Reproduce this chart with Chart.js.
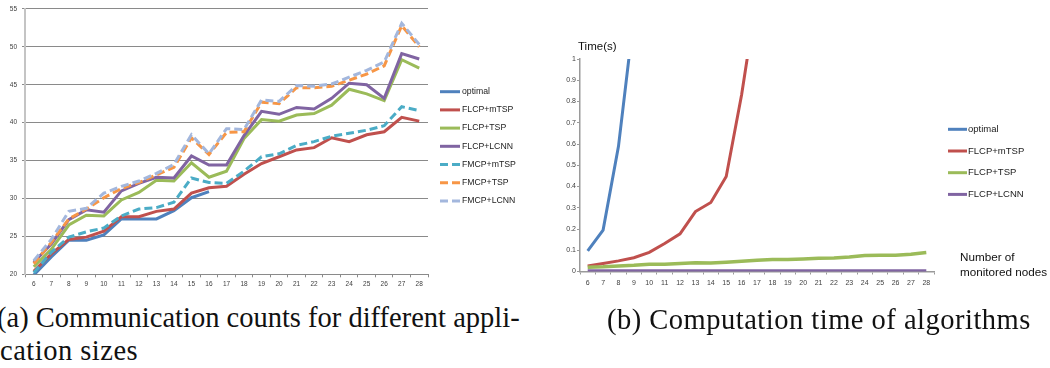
<!DOCTYPE html>
<html><head><meta charset="utf-8">
<script src="https://cdn.jsdelivr.net/npm/chart.js@4/dist/chart.umd.min.js"></script>
<style>
html,body{margin:0;padding:0;background:#fff;width:1050px;height:368px;overflow:hidden;position:relative}
#ca{position:absolute;left:0;top:0}
#cb{position:absolute;left:550px;top:0}
.cap{position:absolute;font-family:"Liberation Serif","DejaVu Serif",serif;font-size:28.5px;color:#111;white-space:nowrap;line-height:1}
</style></head><body>
<canvas id="ca" width="560" height="300"></canvas>
<canvas id="cb" width="500" height="300"></canvas>
<div class="cap" style="left:-3px;top:304px">(a) Communication counts for different appli-</div>
<div class="cap" style="left:0px;top:337px;letter-spacing:0.5px">cation sizes</div>
<div class="cap" style="left:607px;top:306px;letter-spacing:0.5px">(b) Computation time of algorithms</div>
<script>
// ---- data ----
const categories = ['6','7','8','9','10','11','12','13','14','15','16','17','18','19','20','21','22','23','24','25','26','27','28'];
const seriesNames = ['optimal','FLCP+mTSP','FLCP+TSP','FLCP+LCNN','FMCP+mTSP','FMCP+TSP','FMCP+LCNN'];
const yTicksA = [20,25,30,35,40,45,50,55];
const yTicksB = [0,0.1,0.2,0.3,0.4,0.5,0.6,0.7,0.8,0.9,1];

// (a) communication counts
const commOptimal  = [19.9,22.3,24.5,24.5,25.2,27.3,27.3,27.3,28.4,30.1,30.9,null,null,null,null,null,null,null,null,null,null,null,null];
const commFlcpMtsp = [20.4,22.7,24.6,24.9,25.7,27.6,27.6,28.3,28.6,30.7,31.4,31.6,33.2,34.6,35.5,36.4,36.7,38.0,37.5,38.4,38.8,40.7,40.2];
const commFlcpTsp  = [21.0,23.3,26.5,27.8,27.7,29.8,30.8,32.4,32.3,34.7,32.8,33.6,37.9,40.4,40.2,41.0,41.2,42.3,44.4,43.8,42.9,48.3,47.2];
const commFlcpLcnn = [21.6,24.0,27.2,28.5,28.2,31.0,32.0,32.8,32.7,35.6,34.4,34.4,38.3,41.5,41.1,42.0,41.8,43.2,45.2,45.0,43.2,49.1,48.4];
const commFmcpMtsp = [20.2,22.9,24.9,25.6,26.1,27.7,28.6,28.8,29.5,32.7,32.1,32.0,33.6,35.5,35.9,37.0,37.5,38.2,38.6,39.0,39.6,42.1,41.6];
const commFmcpTsp  = [21.4,24.2,27.3,28.6,30.1,31.3,32.1,33.1,34.1,38.0,35.8,38.7,38.8,42.7,42.5,44.6,44.6,44.8,45.6,46.4,47.5,52.8,50.0];
const commFmcpLcnn = [21.8,24.6,28.3,28.7,30.7,31.6,32.3,33.3,34.5,38.4,35.9,39.2,39.1,43.0,42.8,44.9,44.8,45.1,46.0,46.9,48.0,53.1,50.3];

// (b) computation time (s)
const timeOptimal  = [0.097,0.195,0.589,1.2,null,null,null,null,null,null,null,null,null,null,null,null,null,null,null,null,null,null,null];
const timeFlcpMtsp = [0.026,0.038,0.050,0.065,0.090,0.132,0.177,0.282,0.325,0.447,0.832,1.3,null,null,null,null,null,null,null,null,null,null,null];
const timeFlcpTsp  = [0.020,0.022,0.026,0.029,0.034,0.034,0.038,0.041,0.040,0.044,0.048,0.053,0.056,0.056,0.059,0.062,0.064,0.068,0.075,0.076,0.076,0.081,0.089];
const timeFlcpLcnn = [0.003,0.003,0.003,0.003,0.003,0.003,0.003,0.003,0.003,0.003,0.003,0.003,0.003,0.003,0.003,0.003,0.003,0.003,0.003,0.003,0.003,0.003,0.003];

// ---- styles ----
const colors = ['#4F81BD','#C0504D','#9BBB59','#8064A2','#4BACC6','#F79646','#A3B7DD'];
const dashes = [[],[],[],[],[8,4],[8,4],[8,4]];

const overlay = {
  id: 'overlay',
  afterDraw(chart, args, o) {
    const ctx = chart.ctx;
    ctx.save();
    (o.items || []).forEach((it, i) => {
      const y = o.y0 + i * o.dy;
      ctx.beginPath();
      ctx.strokeStyle = it.color;
      ctx.lineWidth = o.lineWidth;
      ctx.setLineDash(it.dash || []);
      ctx.moveTo(o.x, y);
      ctx.lineTo(o.x + o.len, y);
      ctx.stroke();
      ctx.setLineDash([]);
      ctx.fillStyle = o.textColor;
      ctx.font = o.font;
      ctx.textBaseline = 'middle';
      ctx.textAlign = 'left';
      ctx.fillText(it.label, o.x + o.len + o.gap, y);
    });
    (o.texts || []).forEach(t => {
      ctx.fillStyle = t.color;
      ctx.font = t.font;
      ctx.textBaseline = 'middle';
      ctx.textAlign = 'left';
      ctx.fillText(t.text, t.x, t.y);
    });
    ctx.restore();
  }
};

function mkSets(arrs, n) {
  return arrs.map((d, i) => ({
    label: seriesNames[i],
    data: d,
    borderColor: colors[i],
    backgroundColor: colors[i],
    borderWidth: 3,
    borderDash: dashes[i],
    pointRadius: 0,
    tension: 0,
    fill: false,
    order: n - 1 - i
  }));
}

const tickFont = {family: 'Liberation Sans, Arial, sans-serif', size: 6.5};

// ---- chart (a) ----
const setsA = mkSets([commOptimal, commFlcpMtsp, commFlcpTsp, commFlcpLcnn, commFmcpMtsp, commFmcpTsp, commFmcpLcnn], 7);
new Chart(document.getElementById('ca'), {
  type: 'line',
  data: {labels: categories, datasets: setsA},
  options: {
    responsive: false, animation: false,
    layout: {padding: {top: 8, right: 132, left: 0, bottom: 0}},
    plugins: {
      legend: {display: false}, tooltip: {enabled: false},
      overlay: {
        x: 440, len: 20, gap: 2, y0: 91.7, dy: 18.2, lineWidth: 3,
        font: '8.7px "Liberation Sans", Arial, sans-serif', textColor: '#222',
        items: setsA.map((s, i) => ({label: seriesNames[i], color: colors[i], dash: dashes[i]}))
      }
    },
    scales: {
      x: {
        type: 'category', offset: true,
        grid: {offset: true, drawOnChartArea: false, drawTicks: true, tickLength: 3, color: '#8a8a8a'},
        border: {display: true, color: '#8a8a8a', width: 1},
        ticks: {font: tickFont, color: '#404040', padding: 3, maxRotation: 0, autoSkip: false},
        afterFit(s) { s.height = 25.7; }
      },
      y: {
        min: 20, max: 55,
        afterBuildTicks(s) { s.ticks = yTicksA.map(v => ({value: v})); },
        grid: {color: '#8a8a8a', lineWidth: 1, drawTicks: true, tickLength: 3},
        border: {display: true, color: '#c4c4c4', width: 2},
        ticks: {font: tickFont, color: '#404040', padding: 5},
        afterFit(s) { s.width = 25; }
      }
    }
  },
  plugins: [overlay]
});

// ---- chart (b) ----
const setsB = mkSets([timeOptimal, timeFlcpMtsp, timeFlcpTsp, timeFlcpLcnn], 4);
setsB[2].borderWidth = 3.5;
new Chart(document.getElementById('cb'), {
  type: 'line',
  data: {labels: categories, datasets: setsB},
  options: {
    responsive: false, animation: false,
    layout: {padding: {top: 59, right: 116, left: 0, bottom: 0}},
    plugins: {
      legend: {display: false}, tooltip: {enabled: false},
      overlay: {
        x: 398, len: 19, gap: 1, y0: 129.3, dy: 21.7, lineWidth: 3,
        font: '9.5px "Liberation Sans", Arial, sans-serif', textColor: '#222',
        items: setsB.map((s, i) => ({label: seriesNames[i], color: colors[i], dash: dashes[i]})),
        texts: [
          {text: 'Time(s)', x: 28, y: 46.5, font: '11.5px "Liberation Sans", Arial, sans-serif', color: '#111'},
          {text: 'Number of', x: 410, y: 258, font: '11.7px "Liberation Sans", Arial, sans-serif', color: '#111'},
          {text: 'monitored nodes', x: 410, y: 272.5, font: '11.7px "Liberation Sans", Arial, sans-serif', color: '#111'}
        ]
      }
    },
    scales: {
      x: {
        type: 'category', offset: true,
        grid: {offset: true, drawOnChartArea: false, drawTicks: true, tickLength: 3, color: '#9a9a9a'},
        border: {display: true, color: '#9a9a9a', width: 1.5},
        ticks: {font: {family: 'Liberation Sans, Arial, sans-serif', size: 7}, color: '#404040', padding: 4, maxRotation: 0, autoSkip: false},
        afterFit(s) { s.height = 28.5; }
      },
      y: {
        min: 0, max: 1,
        afterBuildTicks(s) { s.ticks = yTicksB.map(v => ({value: v})); },
        grid: {drawOnChartArea: false, drawTicks: true, tickLength: 3, color: '#9a9a9a'},
        border: {display: true, color: '#9a9a9a', width: 1.5},
        ticks: {font: {family: 'Liberation Sans, Arial, sans-serif', size: 7}, color: '#404040', padding: 1,
          callback: v => String(Math.round(v * 10) / 10)},
        afterFit(s) { s.width = 30; }
      }
    }
  },
  plugins: [overlay]
});
</script>
</body></html>
